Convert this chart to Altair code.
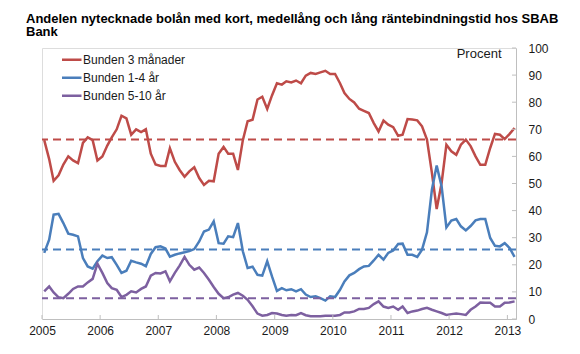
import altair as alt
import pandas as pd

series_names = ["Bunden 3 månader", "Bunden 1-4 år", "Bunden 5-10 år"]
colors = ["#BE4B48", "#4A7EBB", "#7D60A0"]

# monthly values Jan 2005 - Feb 2013 (percent)
red = [66, 59, 51, 53, 57, 60, 58.5, 57.5, 65, 67, 66, 58.5,
       60, 64, 67, 70, 75, 74, 68, 70, 69, 70, 61, 57,
       56.5, 56.5, 63, 58, 55, 52.5, 54.5, 56, 52, 49.5, 51, 50.8,
       61, 63.5, 61, 61, 55, 66, 73, 73.5, 81, 82, 77.5, 82.5,
       87, 86.5, 87.7, 87.3, 88, 87, 89.8, 90.8, 90.4, 91, 91.6, 90.4,
       90.4, 87, 83.4, 81.2, 79.9, 77.6, 76.8, 76, 72.3, 69.2, 73.2, 71.7,
       70.8, 67.6, 68, 73.8, 73.6, 73.3, 71.1, 66.2, 53.9, 40.6, 50.2, 64.3,
       61.9, 60.6, 64.3, 66.2, 63.8, 60, 56.9, 56.9, 63.1, 68.3, 68, 66.4,
       68.3, 70.5]
blue = [24.4, 29.3, 38.5, 38.8, 35.4, 31.5, 31.1, 30.5, 22.5, 19.4, 18.6, 21.3,
        23.4, 22.5, 22.8, 20, 17, 17.8, 21.5, 20.9, 20.4, 19.5, 24, 26.5,
        26.8, 26, 23, 23.7, 24.2, 24.6, 25.1, 25.8, 28.6, 32.3, 33, 36,
        28, 27.8, 30.5, 30.2, 35.4, 25, 18.8, 19.3, 16.3, 16, 21.3, 15.7,
        10.4, 11.4, 10.6, 11, 10.2, 11, 9, 8.1, 8.4, 7.7, 6.8, 8.4,
        8.1, 10.8, 13.9, 16.1, 17, 18.4, 19.4, 19.6, 21.6, 23.7, 21.9, 24.4,
        25.3, 27.7, 27.8, 23.7, 23.7, 22.9, 25.6, 32, 47.7, 56.6, 48.9, 33.8,
        36.3, 36.9, 34.2, 32.7, 34.3, 36.4, 36.9, 36.9, 29.9, 27, 26.8, 28,
        26.2, 22.9]
purple = [10.2, 12, 9.8, 8, 7.7, 9.3, 11.1, 12, 12, 13.5, 14.8, 20.4,
          17, 13.3, 11.4, 10.8, 8.1, 8.9, 10.2, 9.8, 11.1, 12, 16, 17,
          16.8, 17.6, 13.9, 17, 19.7, 22.9, 20, 18.2, 19, 17, 14.5, 11.8,
          9.3, 7.7, 8, 9, 9.6, 8.6, 7.1, 4.7, 2, 1.2, 1.5, 2.2,
          2, 1.5, 1.2, 1.5, 1.4, 2.2, 1.4, 1, 1, 1, 1.2, 1.2,
          1.2, 1.5, 2.4, 2.4, 2.8, 3.7, 3.7, 4.1, 5.5, 6.5, 4.6, 4.1,
          4.6, 3.4, 4.6, 2.2, 2.8, 3.1, 3.7, 4.1, 3.4, 2.8, 2.2, 1.5,
          1.8, 2, 1.8, 1.5, 3.4, 4.6, 6.1, 6, 6, 4.6, 4.6, 6,
          6.1, 6.5]
averages = [66.2, 25.6, 7.7]

year_ticks = [f"{y}-01-01" for y in range(2005, 2014)]
y_ticks = list(range(0, 101, 10))

W, H = 474, 271
FONT = "Liberation Sans"
GRAY = "#BFBFBF"

dates = pd.date_range("2005-01-01", periods=len(red), freq="MS") + pd.Timedelta(days=14)
rows = []
for name, vals in zip(series_names, [red, blue, purple]):
    for d, v in zip(dates, vals):
        rows.append({"date": d, "value": v, "series": name})
df = pd.DataFrame(rows)
avg_df = pd.DataFrame({"series": series_names, "avg": averages})
xt_df = pd.DataFrame({"date": pd.to_datetime(year_ticks)})
yt_df = pd.DataFrame({"v": y_ticks})

xscale = alt.Scale(domain=[alt.DateTime(year=2005, month=1, date=1),
                           alt.DateTime(year=2013, month=2, date=24)])
yscale = alt.Scale(domain=[0, 100], nice=False)
cscale = alt.Scale(domain=series_names, range=colors)

legend = alt.Legend(orient="none", legendX=20, legendY=4, title=None,
                    symbolType="M-2,0H2", symbolSize=144, symbolStrokeWidth=2.5,
                    labelFontSize=12, labelFont=FONT, labelColor="#1a1a1a",
                    labelOffset=6, rowPadding=2, clipHeight=15.5)

x_axis = alt.Axis(values=[alt.DateTime(year=y, month=1, date=1) for y in range(2005, 2014)],
                  format="%Y", labelAngle=0, ticks=False, grid=False, domainColor=GRAY,
                  labelFontSize=12, labelFont=FONT, labelColor="#1a1a1a", labelPadding=6,
                  labelFlush=False, labelOverlap=False, title=None)
y_axis = alt.Axis(orient="right", values=y_ticks, ticks=False, grid=False, domainColor=GRAY,
                  labelFontSize=12, labelFont=FONT, labelColor="#1a1a1a", labelAlign="left",
                  labelPadding=12, labelOverlap=False, title="Procent", titleAngle=0,
                  titleAlign="right", titleX=-15, titleY=9, titleBaseline="alphabetic",
                  titleFontWeight="normal", titleFontSize=13, titleFont=FONT,
                  titleColor="#1a1a1a")

lines = alt.Chart(df).mark_line(strokeWidth=2.5).encode(
    x=alt.X("date:T", scale=xscale, axis=x_axis),
    y=alt.Y("value:Q", scale=yscale, axis=y_axis),
    color=alt.Color("series:N", scale=cscale, sort=series_names, legend=legend),
)

avg_rules = alt.Chart(avg_df).mark_rule(strokeWidth=2, strokeDash=[8, 5]).encode(
    y=alt.Y("avg:Q", scale=yscale, axis=y_axis),
    color=alt.Color("series:N", scale=cscale, sort=series_names, legend=legend),
)

xticks = alt.Chart(xt_df).mark_rule(color=GRAY, strokeWidth=1).encode(
    x=alt.X("date:T", scale=xscale, axis=x_axis),
    y=alt.value(H), y2=alt.value(H - 4),
)
yticks = alt.Chart(yt_df).mark_rule(color=GRAY, strokeWidth=1).encode(
    y=alt.Y("v:Q", scale=yscale, axis=y_axis),
    x=alt.value(W - 4), x2=alt.value(W),
)

chart = alt.layer(lines, avg_rules, xticks, yticks).properties(
    width=W, height=H,
    title=alt.TitleParams(
        text=["Andelen nytecknade bolån med kort, medellång och lång räntebindningstid hos SBAB", "Bank"],
        anchor="start", frame="group", fontSize=13, fontWeight="bold", font=FONT,
        color="#000000", dx=-16, lineHeight=13.5, offset=3),
    autosize=alt.AutoSizeParams(type="none"),
    padding={"left": 42, "top": 48, "right": 64, "bottom": 35},
).configure_view(stroke=None).configure(background="white")

chart.save("out.html", embed_options={"renderer": "svg", "actions": False})
